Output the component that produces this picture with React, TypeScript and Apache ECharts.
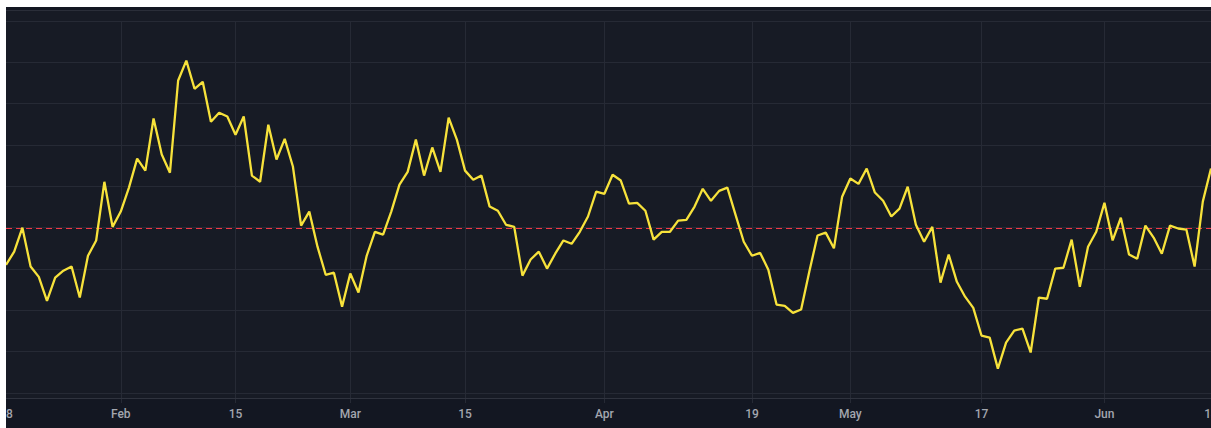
import React, { useEffect, useRef } from "react";
import * as echarts from "echarts";

const startDate = "2023-01-18";

const values: number[] = [
  41.0, 44.2, 50.0, 40.6, 38.1, 32.3, 37.9, 39.6, 40.6, 33.1,
  43.2, 46.9, 61.1, 50.2, 53.9, 59.7, 66.7, 63.8, 76.4, 67.7,
  63.3, 85.6, 90.4, 83.6, 85.3, 75.6, 77.8, 76.9, 72.5, 76.9,
  62.6, 61.1, 74.9, 66.5, 71.5, 64.8, 50.5, 53.9, 45.4, 38.6,
  39.1, 30.9, 38.9, 34.3, 43.2, 49.0, 48.3, 53.9, 60.4, 63.5,
  71.3, 62.6, 69.4, 63.5, 76.6, 71.3, 63.8, 61.6, 62.6, 55.1,
  54.1, 50.7, 50.2, 38.4, 42.3, 44.2, 40.1, 43.7, 46.9, 46.1,
  49.0, 52.7, 58.7, 58.2, 62.8, 61.4, 55.8, 56.0, 54.1, 47.1,
  49.0, 49.0, 51.7, 51.9, 55.1, 59.4, 56.5, 58.9, 59.7, 53.1,
  46.6, 43.2, 43.9, 39.8, 31.4, 31.1, 29.4, 30.2, 39.4, 48.1,
  48.8, 45.0, 57.5, 61.9, 60.6, 64.3, 58.5, 56.5, 52.7, 54.6,
  59.9, 50.7, 46.6, 50.2, 36.7, 43.5, 36.9, 33.3, 30.6, 23.9,
  23.4, 15.9, 22.2, 25.1, 25.6, 19.8, 33.1, 32.8, 40.1, 40.3,
  47.1, 35.7, 45.4, 49.0, 56.0, 46.9, 52.4, 43.5, 42.5, 50.5,
  47.6, 43.7, 50.5, 49.8, 49.5, 40.6, 56.3, 64.3,
];

const tickDates = [
  "2023-01-18", "2023-02-01", "2023-02-15", "2023-03-01", "2023-03-15",
  "2023-04-01", "2023-04-19", "2023-05-01", "2023-05-17", "2023-06-01",
  "2023-06-14",
];
const tickLabels = ["18", "Feb", "15", "Mar", "15", "Apr", "19", "May", "17", "Jun", "14"];
const gridTickDates = tickDates.slice(1, 10);

const refLevel = 50;

function buildDates(start: string, n: number): string[] {
  const out: string[] = [];
  const d0 = new Date(start + "T00:00:00Z");
  for (let i = 0; i < n; i++) {
    const d = new Date(d0.getTime() + i * 86400000);
    out.push(d.toISOString().slice(0, 10));
  }
  return out;
}

const dates = buildDates(startDate, values.length);

export default function App() {
  const ref = useRef<HTMLDivElement>(null);
  useEffect(() => {
    if (!ref.current) return;
    const chart = echarts.init(ref.current, undefined, { renderer: "svg" });
    const W = 1205;
    const red = "#f23645";
    const baseGraphic = [
      {
        id: "plotbg",
        type: "rect",
        silent: true,
        z: -10,
        shape: { x: 0, y: 3, width: W, height: 388 },
        style: { fill: "#171b25" },
      },
      {
        id: "topline",
        type: "line",
        silent: true,
        z: 1,
        shape: { x1: 0, y1: 3.5, x2: W, y2: 3.5 },
        style: { stroke: "#2a2e39", lineWidth: 1 },
      },
      {
        id: "axisline",
        type: "line",
        silent: true,
        z: 1,
        shape: { x1: 0, y1: 391.5, x2: W, y2: 391.5 },
        style: { stroke: "#2f333e", lineWidth: 1 },
      },
    ];
    chart.setOption({
      animation: false,
      backgroundColor: "#131722",
      graphic: baseGraphic,
      grid: {
        left: 0,
        right: 0,
        top: 14,
        bottom: 35,
        containLabel: false,
        outerBoundsMode: "none",
      },
      xAxis: {
        type: "category",
        data: dates,
        boundaryGap: false,
        axisLine: { show: false },
        axisTick: {
          show: true,
          length: 10,
          interval: (_i: number, v: string) => gridTickDates.includes(v),
          lineStyle: { color: "#262a35" },
        },
        splitLine: {
          show: true,
          interval: (_i: number, v: string) => gridTickDates.includes(v),
          lineStyle: { color: "#262a35", width: 1 },
        },
        axisLabel: {
          interval: (_i: number, v: string) => tickDates.includes(v),
          formatter: (v: string) => {
            const k = tickDates.indexOf(v);
            return k >= 0 ? tickLabels[k] : "";
          },
          color: "#a3a6af",
          fontSize: 12,
          fontWeight: 500,
          fontFamily: "Roboto, sans-serif",
          margin: 15,
          hideOverlap: false,
        },
      },
      yAxis: {
        type: "value",
        min: 10,
        max: 100,
        interval: 10,
        axisLabel: { show: false },
        axisLine: { show: false },
        axisTick: { show: false },
        splitLine: { show: true, lineStyle: { color: "#262a35", width: 1 } },
      },
      series: [
        {
          type: "line",
          data: values,
          showSymbol: false,
          symbol: "none",
          lineStyle: { color: "#f7e23b", width: 2.3 },
          z: 3,
        },
      ],
    });
    const yRef = Math.round(chart.convertToPixel({ yAxisIndex: 0 }, refLevel) as number) + 0.5;
    chart.setOption({
      graphic: [
        ...baseGraphic,
        {
          id: "refline",
          type: "line",
          silent: true,
          z: 2,
          shape: { x1: 0, y1: yRef, x2: W, y2: yRef },
          style: { stroke: red, lineWidth: 1.2, lineDash: [6, 4] },
        },
      ],
    });
    return () => chart.dispose();
  }, []);
  return (
    <div
      ref={ref}
      style={{ position: "absolute", left: 6, top: 7, width: 1205, height: 421 }}
    />
  );
}
